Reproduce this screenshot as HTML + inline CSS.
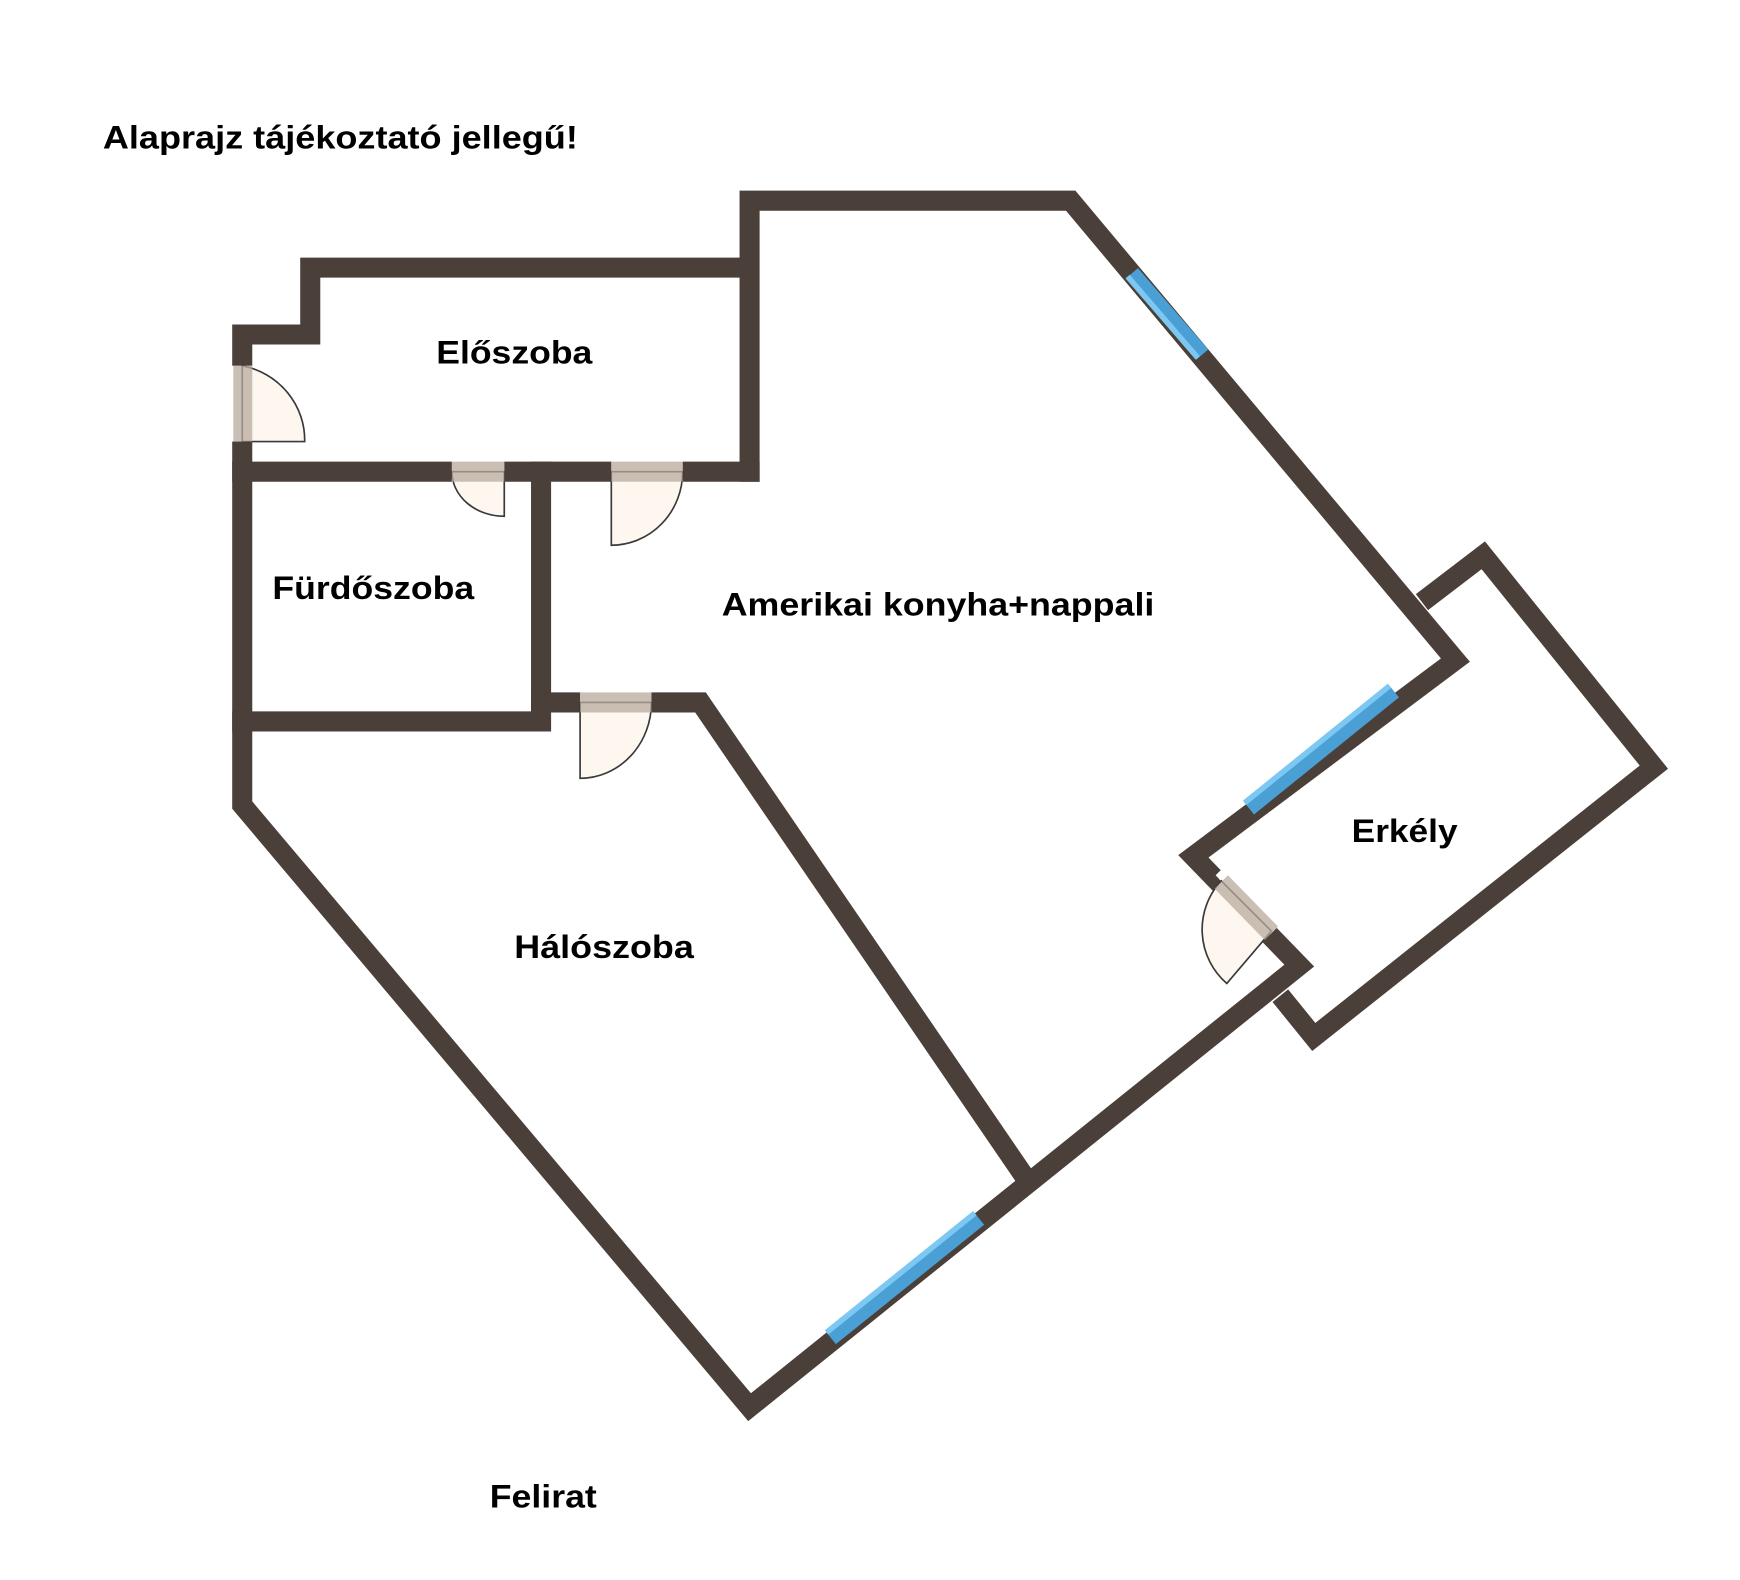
<!DOCTYPE html>
<html><head><meta charset="utf-8"><style>
html,body{margin:0;padding:0;background:#fff;}
svg{display:block}
text{font-family:"Liberation Sans",Arial,sans-serif;font-weight:bold;font-size:29px;fill:#000}
</style></head><body>
<svg width="1740" height="1580" viewBox="0 0 1560 1417" xmlns="http://www.w3.org/2000/svg">
<g fill="none" stroke="#4a3f39" stroke-width="18" stroke-linejoin="miter" stroke-linecap="square">
<polyline points="672,423 672,180 960,180 1305,592 1070,768 1165,866 672,1262 217,722 217,300 278,300 278,240 672,240"/>
<polyline points="217,423 672,423"/>
<polyline points="217,647 485,647 485,423"/>
<polyline points="485,630 628,630 915,1050"/>
<polyline points="1275,540 1330,498 1483,688 1178,930 1148,893" stroke-linecap="butt"/>
</g>
<!-- windows -->
<g stroke-width="14" stroke-linecap="butt">
<line x1="1015" y1="245" x2="1078" y2="318" stroke="#4a9fd4"/>
<line x1="1120" y1="725" x2="1250" y2="620" stroke="#4a9fd4"/>
<line x1="745" y1="1200" x2="878" y2="1093" stroke="#4a9fd4"/>
</g>
<g stroke-width="5" stroke-linecap="butt">
<line x1="1011" y1="248" x2="1074" y2="321" stroke="#7cc8f2"/>
<line x1="1116" y1="720" x2="1246" y2="615" stroke="#7cc8f2"/>
<line x1="741" y1="1195" x2="874" y2="1088" stroke="#7cc8f2"/>
</g>
<!-- door openings -->
<g fill="#fff" stroke="none">
<rect x="207" y="328" width="20" height="68"/>
<rect x="405" y="413" width="47" height="20"/>
<rect x="548" y="413" width="64" height="20"/>
<rect x="520" y="620" width="64" height="20"/>
<polygon points="1090,785 1103,772 1152,825 1139,838"/>
</g>
<g fill="#fdf7f0" stroke="#3a3a3a" stroke-width="1.5">
<path d="M217,396 L217,328 A70 68 0 0 1 273,396 Z"/>
<path d="M452,423 L405,423 A47 40 0 0 0 452,463 Z"/>
<path d="M548,423 L612,423 A64 66 0 0 1 548,489 Z"/>
<path d="M520,630 L584,630 A64 68 0 0 1 520,698 Z"/>
<path d="M1140,835 L1095,790 A64 64 0 0 0 1100,882 Z"/>
</g>
<g fill="#b8aa9c" opacity="0.75" stroke="none">
<rect x="209" y="328" width="17" height="68"/>
<rect x="405" y="414" width="47" height="18"/>
<rect x="548" y="414" width="64" height="18"/>
<rect x="520" y="621" width="64" height="18"/>
<polygon points="1089,797 1101,785 1146,831 1134,843"/>
</g>
<text x="92" y="133" textLength="426" lengthAdjust="spacingAndGlyphs">Alaprajz tájékoztató jellegű!</text>
<text x="391" y="326" textLength="140" lengthAdjust="spacingAndGlyphs">Előszoba</text>
<text x="244" y="537" textLength="181" lengthAdjust="spacingAndGlyphs">Fürdőszoba</text>
<text x="647" y="552" textLength="388" lengthAdjust="spacingAndGlyphs">Amerikai konyha+nappali</text>
<text x="1212" y="755" textLength="95" lengthAdjust="spacingAndGlyphs">Erkély</text>
<text x="461" y="859" textLength="161" lengthAdjust="spacingAndGlyphs">Hálószoba</text>
<text x="439" y="1352" textLength="96" lengthAdjust="spacingAndGlyphs">Felirat</text>
</svg>
</body></html>
